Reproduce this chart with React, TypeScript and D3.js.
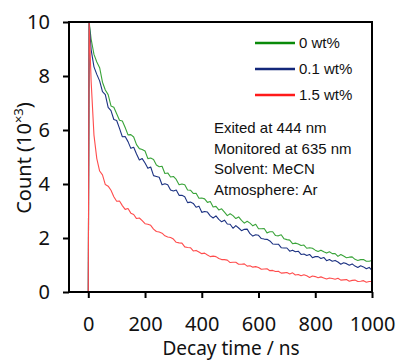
import { useEffect, useRef } from 'react'
import * as d3 from 'd3'

// Decay traces, sampled every 10 ns (plus the baseline before the pulse)
const leadTimes = [-68, 0, 3]
const sampleTimes = d3.range(10, 1001, 10)
const times = [...leadTimes, ...sampleTimes]

// Counts in units of 10^3
const counts0 = [0, 0, 10,
  9.37, 8.80, 8.52, 8.31, 7.77, 7.48, 7.31, 6.89, 6.84, 6.60,
  6.36, 6.33, 6.09, 5.82, 5.83, 5.74, 5.46, 5.31, 5.28, 5.22,
  4.94, 4.96, 4.91, 4.70, 4.64, 4.66, 4.39, 4.41, 4.26, 4.28,
  4.17, 3.97, 4.00, 3.97, 3.78, 3.77, 3.65, 3.66, 3.47, 3.48,
  3.45, 3.32, 3.35, 3.15, 3.17, 3.04, 3.08, 2.96, 2.83, 2.90,
  2.83, 2.72, 2.78, 2.65, 2.55, 2.62, 2.55, 2.45, 2.51, 2.34,
  2.34, 2.35, 2.19, 2.23, 2.23, 2.09, 2.08, 2.12, 1.97, 1.94,
  1.92, 1.79, 1.81, 1.78, 1.72, 1.74, 1.62, 1.64, 1.62, 1.55,
  1.50, 1.55, 1.49, 1.44, 1.49, 1.42, 1.42, 1.32, 1.39, 1.33,
  1.27, 1.29, 1.30, 1.21, 1.17, 1.20, 1.20, 1.14, 1.14, 1.17]

const counts01 = [0, 0, 10,
  8.98, 8.34, 8.06, 7.82, 7.42, 7.31, 6.84, 6.72, 6.39, 6.35,
  6.06, 5.75, 5.76, 5.57, 5.32, 5.36, 5.11, 4.89, 4.94, 4.78,
  4.58, 4.63, 4.31, 4.28, 4.25, 3.97, 4.01, 3.97, 3.78, 3.74,
  3.78, 3.58, 3.58, 3.53, 3.31, 3.33, 3.28, 3.14, 3.18, 2.95,
  2.98, 2.96, 2.82, 2.74, 2.82, 2.69, 2.60, 2.66, 2.52, 2.51,
  2.36, 2.46, 2.37, 2.27, 2.32, 2.33, 2.16, 2.07, 2.12, 2.10,
  1.98, 1.96, 1.95, 1.89, 1.78, 1.77, 1.77, 1.64, 1.63, 1.63,
  1.51, 1.55, 1.49, 1.51, 1.39, 1.41, 1.35, 1.39, 1.27, 1.31,
  1.31, 1.24, 1.28, 1.16, 1.20, 1.14, 1.17, 1.11, 1.03, 1.08,
  1.05, 0.99, 1.04, 0.96, 0.91, 0.97, 0.93, 0.86, 0.91, 0.80]

const counts15 = [0, 0, 10,
  7.81, 5.81, 4.94, 4.48, 4.34, 3.98, 3.92, 3.77, 3.53, 3.36,
  3.37, 3.20, 3.06, 3.09, 2.92, 2.87, 2.72, 2.74, 2.64, 2.53,
  2.51, 2.47, 2.33, 2.24, 2.22, 2.18, 2.08, 2.04, 2.02, 1.96,
  1.84, 1.82, 1.81, 1.67, 1.65, 1.64, 1.52, 1.54, 1.48, 1.42,
  1.44, 1.37, 1.31, 1.33, 1.31, 1.24, 1.20, 1.20, 1.18, 1.09,
  1.10, 1.10, 1.03, 1.03, 1.04, 0.96, 0.97, 0.92, 0.94, 0.91,
  0.84, 0.85, 0.86, 0.79, 0.80, 0.76, 0.77, 0.70, 0.71, 0.72,
  0.67, 0.71, 0.63, 0.65, 0.60, 0.64, 0.60, 0.54, 0.59, 0.57,
  0.53, 0.56, 0.52, 0.48, 0.52, 0.50, 0.47, 0.51, 0.44, 0.45,
  0.46, 0.40, 0.43, 0.44, 0.39, 0.40, 0.42, 0.36, 0.39, 0.39]

const seriesLabels = ['0 wt%', '0.1 wt%', '1.5 wt%']
const seriesValues = [counts0, counts01, counts15]
const legendColors = ['#0a8a0a', '#13277a', '#ff1a1a']
const traceColors = ['#3aa43a', '#1c3282', '#ff4d4d']

const xTicks = [0, 200, 400, 600, 800, 1000]
const yTicks = [0, 2, 4, 6, 8, 10]
const notes = ['Exited at 444 nm', 'Monitored at 635 nm', 'Solvent: MeCN', 'Atmosphere: Ar']

const axisFont = "'Noto Sans', 'Open Sans', sans-serif"
const textFont = "'Liberation Sans', Arial, sans-serif"

export default function App() {
  const ref = useRef<SVGSVGElement>(null)

  useEffect(() => {
    if (!ref.current) return
    const svg = d3.select(ref.current)
    svg.selectAll('*').remove()

    const left = 69, right = 372, top = 22, bottom = 292

    const x = d3.scaleLinear().domain([-68, 1000]).range([left, right])
    const y = d3.scaleLinear().domain([0, 10]).range([bottom, top])

    svg.append('defs').append('clipPath').attr('id', 'plot-clip')
      .append('rect')
      .attr('x', left).attr('y', top - 1)
      .attr('width', right - left).attr('height', bottom - top + 1)

    // traces
    const line = d3.line<number>()
      .x((_, i) => x(times[i]))
      .y(d => y(d))

    seriesValues.forEach((vals, k) => {
      svg.append('path')
        .datum(vals)
        .attr('fill', 'none')
        .attr('stroke', traceColors[k])
        .attr('stroke-width', 1.1)
        .attr('stroke-linejoin', 'round')
        .attr('clip-path', 'url(#plot-clip)')
        .attr('d', line)
    })

    // frame
    svg.append('rect')
      .attr('x', left).attr('y', top)
      .attr('width', right - left).attr('height', bottom - top)
      .attr('fill', 'none')
      .attr('stroke', '#000')
      .attr('stroke-width', 2)

    // x axis
    svg.append('g')
      .attr('transform', `translate(0,${bottom})`)
      .call(d3.axisBottom(x).tickValues(xTicks).tickSize(6).tickPadding(19).tickFormat(d3.format('d')))
      .call(g => g.select('.domain').remove())
      .call(g => g.selectAll('.tick line').attr('stroke', '#000').attr('stroke-width', 2))
      .call(g => g.selectAll('.tick text').attr('fill', '#111').style('font-size', '20px').style('font-family', axisFont))

    // y axis
    svg.append('g')
      .attr('transform', `translate(${left},0)`)
      .call(d3.axisLeft(y).tickValues(yTicks).tickSize(6).tickPadding(13).tickFormat(d3.format('d')))
      .call(g => g.select('.domain').remove())
      .call(g => g.selectAll('.tick line').attr('stroke', '#000').attr('stroke-width', 2))
      .call(g => g.selectAll('.tick text').attr('fill', '#111').style('font-size', '20px').style('font-family', axisFont))

    // axis titles
    svg.append('text')
      .attr('x', 231).attr('y', 355)
      .attr('text-anchor', 'middle')
      .attr('fill', '#111')
      .style('font-size', '19px').style('font-family', axisFont)
      .text('Decay time / ns')

    const yTitle = svg.append('text')
      .attr('transform', 'translate(31,158) rotate(-90)')
      .attr('text-anchor', 'middle')
      .attr('fill', '#111')
      .style('font-size', '20px').style('font-family', axisFont)
    yTitle.append('tspan').text('Count (10')
    yTitle.append('tspan').attr('dy', -8).style('font-size', '13px').text('×3')
    yTitle.append('tspan').attr('dy', 8).text(')')

    // legend
    seriesLabels.forEach((label, k) => {
      const ly = 43 + k * 26
      svg.append('line')
        .attr('x1', 255).attr('x2', 295)
        .attr('y1', ly).attr('y2', ly)
        .attr('stroke', legendColors[k])
        .attr('stroke-width', 2.6)
      svg.append('text')
        .attr('x', 299).attr('y', ly + 5)
        .attr('fill', '#111')
        .style('font-size', '15px').style('font-family', textFont)
        .text(label)
    })

    // measurement notes
    notes.forEach((note, i) => {
      svg.append('text')
        .attr('x', 214).attr('y', 133 + i * 20.7)
        .attr('fill', '#111')
        .style('font-size', '15px').style('font-family', textFont)
        .text(note)
    })
  }, [])

  return (
    <svg
      ref={ref}
      width={398}
      height={362}
      style={{ position: 'absolute', left: 0, top: 0, background: '#fff' }}
    />
  )
}
